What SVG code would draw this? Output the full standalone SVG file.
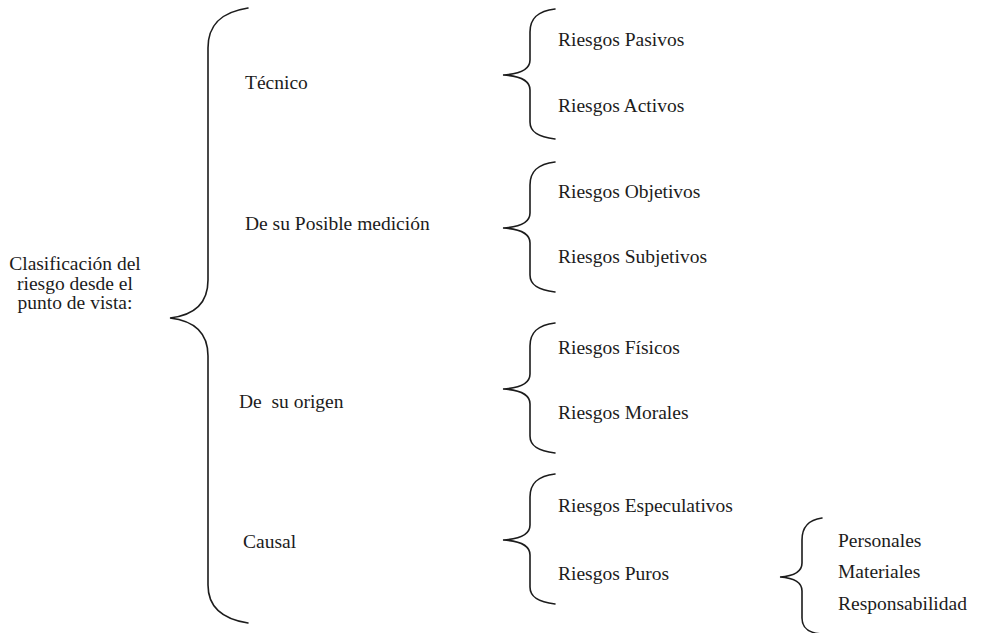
<svg xmlns="http://www.w3.org/2000/svg" width="985" height="633" viewBox="0 0 985 633">
<style>
text{font-family:"Liberation Serif","Times New Roman",serif;font-size:19.5px;fill:#1c1c1c;white-space:pre}
.br{fill:none;stroke:#1c1c1c;stroke-width:1.6;stroke-linecap:round}
</style>
<defs>
<path id="sb" d="M52,-66 C35,-64 27,-57 27,-43 L27,-15 C27,-5 17,-1 0,0 C17,1 27,5 27,15 L27,47 C27,57 35,62 52,64"/>
</defs>
<rect width="985" height="633" fill="#fff"/>
<g id="connectors">
<path class="br" d="M248,8 C222,12 208,24 208,48 L208,280 C208,302 196,315 170,318 C196,321 208,334 208,356 L208,585 C208,606 222,619 248,623"/>
<use href="#sb" class="br" x="503" y="75"/>
<use href="#sb" class="br" x="503" y="228"/>
<use href="#sb" class="br" x="503" y="389"/>
<use href="#sb" class="br" x="503" y="540"/>
<path class="br" d="M822,518 C808,520 802,527 802,540 L802,563 C802,572 794,576 780,577 C794,578 802,582 802,591 L802,618 C802,628 808,633 822,634"/>
</g>
<g id="root"><text x="75" y="270" text-anchor="middle">Clasificación del</text><text x="75" y="290" text-anchor="middle">riesgo desde el</text><text x="75" y="309" text-anchor="middle">punto de vista:</text></g>
<g id="tecnico"><text x="245" y="89">Técnico</text></g>
<g id="medicion"><text x="245" y="230">De su Posible medición</text></g>
<g id="origen"><text x="239" y="408" xml:space="preserve">De  su origen</text></g>
<g id="causal"><text x="243" y="548">Causal</text></g>
<g id="pasivos"><text x="558" y="46">Riesgos Pasivos</text></g>
<g id="activos"><text x="558" y="112">Riesgos Activos</text></g>
<g id="objetivos"><text x="558" y="198">Riesgos Objetivos</text></g>
<g id="subjetivos"><text x="558" y="263">Riesgos Subjetivos</text></g>
<g id="fisicos"><text x="558" y="354">Riesgos Físicos</text></g>
<g id="morales"><text x="558" y="419">Riesgos Morales</text></g>
<g id="especulativos"><text x="558" y="512">Riesgos Especulativos</text></g>
<g id="puros"><text x="558" y="580">Riesgos Puros</text></g>
<g id="personales"><text x="838" y="547">Personales</text></g>
<g id="materiales"><text x="838" y="578">Materiales</text></g>
<g id="responsabilidad"><text x="838" y="610">Responsabilidad</text></g>
</svg>
